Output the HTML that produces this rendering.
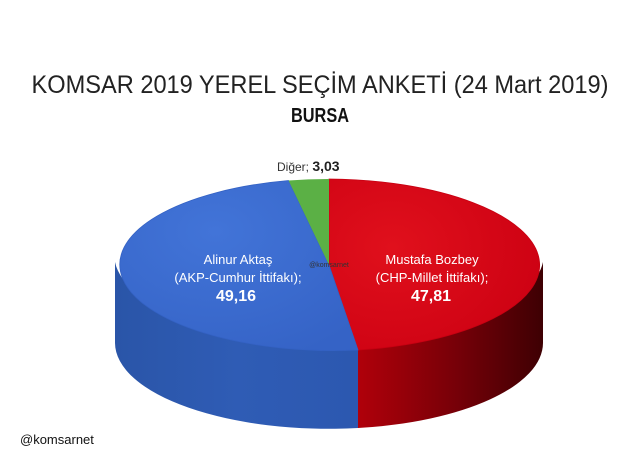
<!DOCTYPE html>
<html><head><meta charset="utf-8"><style>
html,body{margin:0;padding:0;background:#fff;}
svg{display:block;}
text{font-family:"Liberation Sans",sans-serif;}
</style></head><body>
<svg width="640" height="466" viewBox="0 0 640 466" xmlns="http://www.w3.org/2000/svg">
<defs>
<linearGradient id="bs" x1="0" y1="0" x2="1" y2="0">
<stop offset="0" stop-color="#2a55a8"/><stop offset="0.5" stop-color="#2f5cb5"/><stop offset="1" stop-color="#2c58b0"/>
</linearGradient>
<linearGradient id="rs" x1="0" y1="0" x2="1" y2="0">
<stop offset="0" stop-color="#b0000a"/><stop offset="0.5" stop-color="#7a0008"/><stop offset="1" stop-color="#3e0003"/>
</linearGradient>
<radialGradient id="bt" cx="0.4" cy="0.3" r="0.8">
<stop offset="0" stop-color="#4274d8"/><stop offset="1" stop-color="#3563c6"/>
</radialGradient>
<radialGradient id="rt" cx="0.3" cy="0.4" r="0.8">
<stop offset="0" stop-color="#e0101c"/><stop offset="1" stop-color="#cc0012"/>
</radialGradient>
</defs>
<text x="320" y="93" font-size="25" fill="#222" text-anchor="middle" textLength="577" lengthAdjust="spacingAndGlyphs">KOMSAR 2019 YEREL SEÇİM ANKETİ (24 Mart 2019)</text>
<text x="320" y="122" font-size="20" font-weight="bold" fill="#111" text-anchor="middle" textLength="58" lengthAdjust="spacingAndGlyphs">BURSA</text>

<path d="M358,340 A214,86 0 0,1 115,262 L115,343 A214,86 0 0,0 358,428 Z" fill="url(#bs)"/>
<path d="M358,340 A214,86 0 0,0 543,262 L543,343 A214,86 0 0,1 358,428 Z" fill="url(#rs)"/>
<path d="M329,265 L329,179 A214,86 0 0,1 358,350 Z" fill="url(#rt)" stroke="#c80012" stroke-width="0.8"/>
<path d="M329,265 L358,350 A214,86 0 0,1 288.5,180.5 Z" fill="url(#bt)" stroke="#3462c4" stroke-width="0.8"/>
<path d="M329,265 L288.5,180.5 A214,86 0 0,1 329,179 Z" fill="#5bb045"/>

<text x="277" y="171" font-size="12" fill="#333">Diğer; <tspan font-weight="bold" font-size="14" fill="#222">3,03</tspan></text>
<text x="329" y="267" font-size="7" fill="#333" text-anchor="middle">@komsarnet</text>
<g fill="#fff" text-anchor="middle">
<text x="238" y="264" font-size="13">Alinur Aktaş</text>
<text x="238" y="282" font-size="13">(AKP-Cumhur İttifakı);</text>
<text x="236" y="301" font-size="16" font-weight="bold">49,16</text>
<text x="432" y="264" font-size="13">Mustafa Bozbey</text>
<text x="432" y="282" font-size="13">(CHP-Millet İttifakı);</text>
<text x="431" y="301" font-size="16" font-weight="bold">47,81</text>
</g>
<text x="20" y="444" font-size="13" fill="#111">@komsarnet</text>
</svg>
</body></html>
